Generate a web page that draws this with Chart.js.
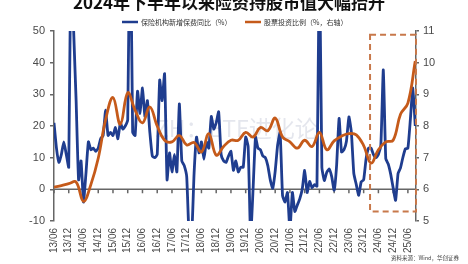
<!DOCTYPE html>
<html>
<head>
<meta charset="utf-8">
<script src="https://cdn.jsdelivr.net/npm/chart.js@4.4.1/dist/chart.umd.min.js"></script>
<style>
  html, body { margin: 0; padding: 0; background: #fff; }
</style>
</head>
<body>
<canvas id="chart" width="468" height="264"></canvas>
<script>
// half-year tick labels, monthly data starts 2013/06
const tickLabels = ['13/06','13/12','14/06','14/12','15/06','15/12','16/06','16/12','17/06','17/12',
  '18/06','18/12','19/06','19/12','20/06','20/12','21/06','21/12','22/06','22/12',
  '23/06','23/12','24/06','24/12','25/06'];

// 保险机构新增保费同比（%），monthly 2013/06 - 2025/09
const premiumYoY = [
  21, 13, 8.5, 11, 15, 11, 7, 85, 50, 28,
  3, 9, -4, 5, 15, 12.5, 13, 12, 13, 16,
  17, 25, 17, 18, 17, 19.5, 16, 21, 19, 20,
  22, 90, 18, 17, 31, 24, 32, 23, 28, 18,
  10.5, 10, 11, 34.5, 28, 36.5, 3, 11.5, 5.5, 11,
  5.5, 27, 9, 7.5, 4, -15, -15, 5, 16.5, 11.5,
  15, 9.5, 15, 13, 23, 19, 21, 24.5, 11, 9,
  8.5, 10.5, 12, 6, 9, 5.5, 7, 7, 16.5, 13.5,
  -15, 0, 16.5, 13, 12.5, 10.5, 10, 7.5, 3, 0.3,
  5.7, 14, 18, -2, -4, -1, -13, -1, -7, -5,
  -3, 0, 6, -1, 2.5, 0.5, 1.5, 1, 75, 7,
  2.8, 5.4, 6.4, 4, -0.3, 7.6, 22.4, 11.8, 12.5, 15.2,
  22.9, 18, 5, 1.5, -1.9, 2.4, 3, 9.7, 13, 13,
  11, 10, 11, 14, 37.7, 9.7, 8, 4.8, 0.5, -3.5,
  5, 6.8, 10.2, 12.8, 13, 22, 32, 20
];

// 股票投资比例（%，右轴），quarterly readings (every 3rd month from 2013/06)
const stockRatio = [
  6.07, 6.12, 6.18, 6.23, 5.62, 6.15, 6.98, 8.2, 8.9, 8.05,
  9.05, 8.5, 8.1, 8.6, 8.0, 7.55, 7.5, 7.7, 7.4, 7.48,
  7.18, 7.76, 7.08, 7.35, 7.55, 7.55, 7.8, 7.65, 7.95, 7.85,
  8.25, 7.65, 7.5, 7.3, 7.55, 7.35, 7.8, 7.25, 7.53, 7.68,
  7.76, 7.72, 7.38, 6.83, 7.25, 7.5, 7.55, 8.37, 8.72, 10.05
];

// highlighted period (month index / right-axis values)
const boxFrom = 128.6, boxTop = 10.88, boxBottom = 5.3;

const blue = '#1f3d8f';
const orange = '#c55a1a';
const labelFont = { family: 'Liberation Sans', size: 11 };

const decor = {
  id: 'decor',
  beforeDatasetsDraw(chart) {
    const { ctx, chartArea, scales: { x, y } } = chart;
    const y0 = y.getPixelForValue(0);
    ctx.save();
    // faint watermark
    ctx.fillStyle = 'rgba(165,172,195,0.3)';
    ctx.font = '23px "Noto Sans CJK SC"';
    ctx.textBaseline = 'middle';
    ctx.fillText('ZH：ETF进化论', 155, 128);
    // zero line with tick marks
    ctx.strokeStyle = '#666';
    ctx.lineWidth = 1.5;
    ctx.beginPath();
    ctx.moveTo(chartArea.left, y0);
    ctx.lineTo(chartArea.right, y0);
    x.ticks.forEach(t => {
      const px = x.getPixelForValue(t.value);
      ctx.moveTo(px, y0);
      ctx.lineTo(px, y0 + 4);
    });
    ctx.stroke();
    ctx.restore();
  },
  afterDatasetsDraw(chart) {
    const { ctx, chartArea, scales: { x, y1 } } = chart;
    const l = x.getPixelForValue(boxFrom), r = chartArea.right;
    const t = y1.getPixelForValue(boxTop), b = y1.getPixelForValue(boxBottom);
    ctx.save();
    ctx.strokeStyle = '#c8784a';
    ctx.lineWidth = 2;
    ctx.setLineDash([6, 4]);
    ctx.strokeRect(l, t, r - l, b - t);
    ctx.restore();
  },
  afterDraw(chart) {
    const { ctx } = chart;
    ctx.save();
    // title
    ctx.fillStyle = '#111';
    ctx.font = 'bold 17px "Noto Sans CJK SC"';
    ctx.textAlign = 'center';
    ctx.textBaseline = 'middle';
    ctx.fillText('2024年下半年以来险资持股市值大幅抬升', 229, 2.5);
    // legend
    ctx.textAlign = 'left';
    ctx.font = '7px "Noto Sans CJK SC"';
    const items = [[122, chart.data.datasets[0]], [245, chart.data.datasets[1]]];
    items.forEach(([lx, ds]) => {
      ctx.strokeStyle = ds.borderColor;
      ctx.lineWidth = 2.5;
      ctx.beginPath();
      ctx.moveTo(lx, 22);
      ctx.lineTo(lx + 16, 22);
      ctx.stroke();
      ctx.fillStyle = '#333';
      ctx.fillText(ds.label, lx + 19, 22);
    });
    // source
    ctx.font = '5.5px "Noto Sans CJK SC"';
    ctx.textAlign = 'right';
    ctx.fillStyle = '#444';
    ctx.fillText('资料来源：Wind，华创证券', 459, 258);
    ctx.restore();
  }
};

new Chart(document.getElementById('chart').getContext('2d'), {
  type: 'line',
  data: {
    datasets: [{
      label: '保险机构新增保费同比（%）',
      data: premiumYoY.map((v, i) => ({ x: i, y: v })),
      yAxisID: 'y',
      borderColor: blue,
      backgroundColor: blue,
      borderWidth: 2.8,
      tension: 0.15,
      pointRadius: 0,
      clip: 0,
      order: 1
    }, {
      label: '股票投资比例（%，右轴）',
      data: stockRatio.map((v, i) => ({ x: i * 3, y: v })),
      yAxisID: 'y1',
      borderColor: orange,
      backgroundColor: orange,
      borderWidth: 2.8,
      tension: 0.4,
      pointRadius: 0,
      clip: 0,
      order: 0
    }]
  },
  options: {
    responsive: false,
    animation: false,
    layout: { padding: { top: 31, left: 0, right: 0, bottom: 0 } },
    plugins: {
      legend: { display: false },
      title: { display: false },
      tooltip: { enabled: false }
    },
    scales: {
      x: {
        type: 'linear',
        min: 0,
        max: 147.3,
        grid: { display: false, drawTicks: false },
        border: { display: false },
        afterBuildTicks: s => { s.ticks = tickLabels.map((_, i) => ({ value: i * 6 })); },
        afterFit: s => { s.height = 43; },
        ticks: {
          autoSkip: false,
          minRotation: 90,
          maxRotation: 90,
          padding: 7,
          color: '#4a4a4a',
          font: { family: 'Liberation Sans', size: 10 },
          callback: v => tickLabels[v / 6]
        }
      },
      y: {
        position: 'left',
        min: -10,
        max: 50,
        afterFit: s => { s.width = 54; },
        grid: { drawOnChartArea: false, tickLength: 4, color: '#666', lineWidth: 1.5 },
        border: { color: '#666', width: 1.5 },
        ticks: { stepSize: 10, padding: 5, color: '#4a4a4a', font: labelFont }
      },
      y1: {
        position: 'right',
        min: 5,
        max: 11,
        afterFit: s => { s.width = 52; },
        grid: { drawOnChartArea: false, tickLength: 3, color: '#666', lineWidth: 1.5 },
        border: { color: '#666', width: 1.5 },
        ticks: { stepSize: 1, padding: 4, color: '#4a4a4a', font: labelFont }
      }
    }
  },
  plugins: [decor]
});
</script>
</body>
</html>
